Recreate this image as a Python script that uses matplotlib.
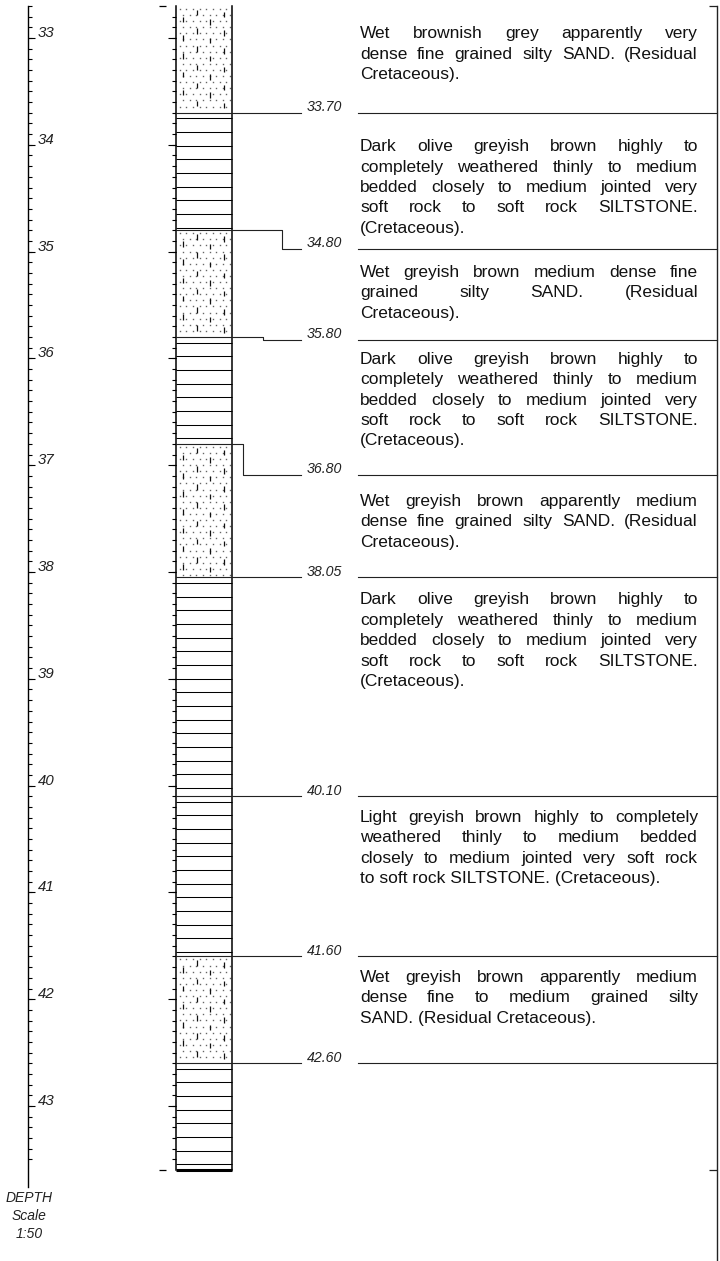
import matplotlib
matplotlib.use("Agg")
import matplotlib.pyplot as plt
from matplotlib.font_manager import FontProperties
import numpy as np

# ---- borehole log data ----
page_top = 32.70
page_bottom = 43.60
layer_top = [32.70, 33.70, 34.80, 35.80, 36.80, 38.05, 40.10, 41.60, 42.60]
layer_bottom = [33.70, 34.80, 35.80, 36.80, 38.05, 40.10, 41.60, 42.60, 43.60]
layer_type = ["sand", "silt", "sand", "silt", "sand", "silt", "silt", "sand", "silt"]

# boundary depths and where their labels sit in the description column
boundary_depth = [33.70, 34.80, 35.80, 36.80, 38.05, 40.10, 41.60, 42.60]
label_depth = [33.70, 34.975, 35.825, 37.09, 38.05, 40.10, 41.60, 42.60]
boundary_label = ["33.70", "34.80", "35.80", "36.80", "38.05", "40.10", "41.60", "42.60"]

siltstone = ["Dark  olive  greyish  brown  highly  to",
             "completely  weathered  thinly  to medium",
             "bedded  closely  to  medium  jointed very",
             "soft  rock  to  soft  rock  SILTSTONE.",
             "(Cretaceous)."]
descriptions = [
    ["Wet brownish grey apparently very",
     "dense fine grained silty SAND. (Residual",
     "Cretaceous)."],
    siltstone,
    ["Wet greyish brown medium dense fine",
     "grained silty SAND. (Residual",
     "Cretaceous)."],
    siltstone,
    ["Wet greyish brown apparently medium",
     "dense fine grained silty SAND. (Residual",
     "Cretaceous)."],
    siltstone,
    ["Light greyish brown highly to completely",
     "weathered thinly to medium bedded",
     "closely to medium jointed very soft rock",
     "to soft rock SILTSTONE. (Cretaceous)."],
    ["Wet greyish brown apparently medium",
     "dense fine to medium grained silty",
     "SAND. (Residual Cretaceous)."],
]

scale_ticks_major = np.arange(33, 44)

# ---- layout (pixels) ----
W, H = 720, 1261
PXM = 106.8          # pixels per metre
Y33 = 38.0           # pixel row of 33 m
AX_X = 28
COL_L, COL_R = 176, 232
LEAD_END = 301
LAB_R = 342
DESC_L, DESC_R = 360, 698
SEP_L, RIGHT_X = 358, 717
LINE_H = 20.4
first_line_off = [32.5, 38.5, 28, 24, 31, 27, 25.5, 25.5]
FONT = "Liberation Sans"


def px(p):
    return p / PXM


def depth_of_row(r):
    return 33 + (r - Y33) / PXM


fig = plt.figure(figsize=(W / 100, H / 100), dpi=100)
ax = fig.add_axes([0, 0, 1, 1])
ax.set_xlim(0, W)
ax.set_ylim(depth_of_row(H), depth_of_row(0))
ax.axis("off")

# ---- depth scale on the left ----
ax.plot([AX_X, AX_X], [page_top, 43.755], color="black", lw=1.0)
minor = np.round(np.arange(page_top, 43.51, 0.1), 2)
ax.hlines(minor, AX_X, AX_X + 4, color="black", lw=0.8)
ax.hlines(scale_ticks_major, AX_X, AX_X + 7, color="black", lw=0.8)
for d in scale_ticks_major:
    ax.text(AX_X + 10, d - px(1), str(d), fontsize=10.8, style="italic",
            family=FONT, ha="left", va="baseline", color="#222")
for i, s in enumerate(["DEPTH", "Scale", "1:50"]):
    ax.text(AX_X + 1, depth_of_row(1198 + 18 * i), s, fontsize=10, style="italic",
            family=FONT, ha="center", va="center", color="#222")

# ---- graphic column ----
for top, bot, kind in zip(layer_top, layer_bottom, layer_type):
    if kind == "silt":
        ys = np.arange(top + px(5.5), bot - px(1.5), px(13.67))
        ax.hlines(ys, COL_L, COL_R, color="black", lw=0.75)
    else:
        # dotted background
        rows = np.arange(top + px(3), bot - px(1), px(6.1))
        for k, y in enumerate(rows):
            xs = np.arange(179.5 + (3.3 if k % 2 else 0), COL_R - 1, 6.7)
            ax.plot(xs, np.full_like(xs, y), ls="none", marker="s", ms=1.0,
                    mec="none", mfc="#666")
        # short vertical dashes
        for cx, ph in zip([183.3, 196.7, 210.0, 224.3], [11, 4, 13.5, 6]):
            ys = np.arange(top + px(ph), bot - px(5), px(18.2))
            ax.vlines(np.full_like(ys, cx), ys, ys + px(5.5), color="#111", lw=0.9)

ax.plot([COL_L, COL_L], [page_top, page_bottom], color="black", lw=1.1)
ax.plot([COL_R, COL_R], [page_top, page_bottom], color="black", lw=1.1)
ax.plot([COL_L, COL_R], [page_bottom, page_bottom], color="black", lw=2.2,
        solid_capstyle="butt")
col_minor = np.round(np.arange(32.8, 43.51, 0.1), 2)
ax.hlines(col_minor, COL_L - 4, COL_L, color="black", lw=0.8)
ax.hlines(scale_ticks_major, COL_L - 8, COL_L, color="black", lw=0.8)
ax.hlines([page_top, page_bottom], 159, 166, color="black", lw=0.9)

# ---- boundary leaders and depth labels ----
shift_no = 0
for d, ld, lab in zip(boundary_depth, label_depth, boundary_label):
    if abs(ld - d) > 1e-6:
        kx = 282 - 19.5 * shift_no
        shift_no += 1
        ax.plot([COL_L, kx, kx, LEAD_END], [d, d, ld, ld], color="#222", lw=0.8)
    else:
        ax.plot([COL_L, LEAD_END], [d, d], color="#222", lw=0.8)
    ax.text(LAB_R, ld - px(1.5), lab, fontsize=10.2, style="italic", family=FONT,
            ha="right", va="baseline", color="#222")
    ax.plot([SEP_L, RIGHT_X], [ld, ld], color="#222", lw=0.8)

# ---- right border ----
ax.plot([RIGHT_X, RIGHT_X], [page_top, depth_of_row(H)], color="#222", lw=1.0)
ax.hlines([page_top, page_bottom], RIGHT_X - 8, RIGHT_X, color="#222", lw=0.9)

# ---- justified descriptions ----
renderer = fig.canvas.get_renderer()
prop = FontProperties(family=FONT, size=12.5)
starts = [page_top] + label_depth[:-1]
for block, start, off in zip(descriptions, starts, first_line_off):
    y0 = start + px(off)
    for j, line in enumerate(block):
        y = y0 + px(LINE_H * j)
        words = line.split()
        if j == len(block) - 1 or len(words) == 1:
            ax.text(DESC_L, y, " ".join(words), fontproperties=prop,
                    ha="left", va="baseline", color="#111")
            continue
        widths = [renderer.get_text_width_height_descent(w, prop, ismath=False)[0]
                  for w in words]
        gap = (DESC_R - DESC_L - sum(widths)) / (len(words) - 1)
        x = DESC_L
        for w, wd in zip(words, widths):
            ax.text(x, y, w, fontproperties=prop, ha="left", va="baseline",
                    color="#111")
            x += wd + gap

fig.savefig("out.png", dpi=100)
